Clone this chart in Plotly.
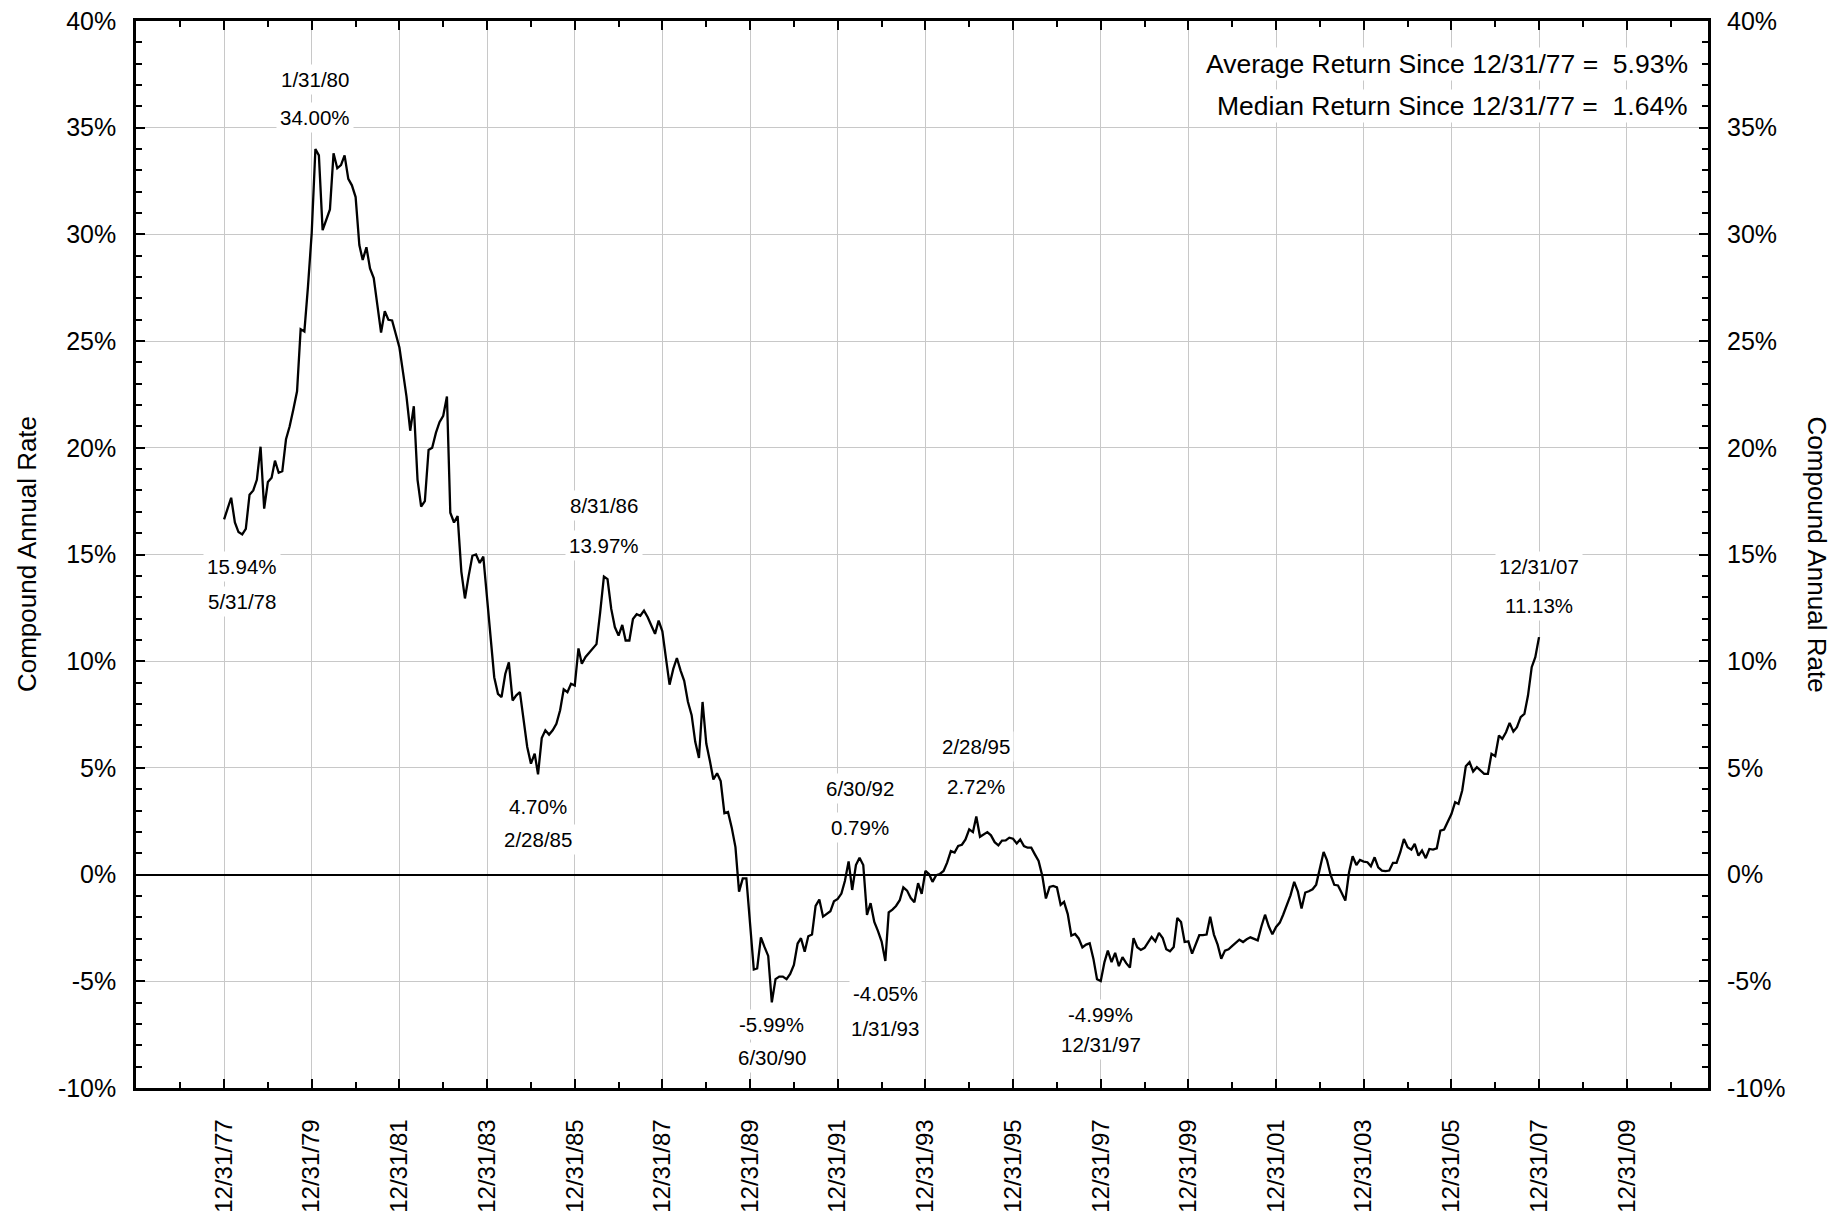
import pandas as pd
import plotly.graph_objects as go

# ---------------- data ----------------
START_DATE = "1977-12-31"
RATES = [
    16.65,
    17.15, 17.66, 16.5, 16.05, 15.94, 16.2, 17.8, 18.0, 18.5, 20.05, 17.15, 18.4,
    18.6, 19.4, 18.83, 18.9, 20.4, 21.0, 21.8, 22.65, 25.56, 25.45, 27.55, 30.05,
    34.00, 33.7, 30.2, 30.67, 31.17, 33.8, 33.1, 33.25, 33.7, 32.6, 32.3, 31.75,
    29.5, 28.8, 29.4, 28.4, 27.95, 26.7, 25.4, 26.4, 26.0, 25.97, 25.3, 24.7,
    23.5, 22.4, 20.8, 21.95, 18.5, 17.25, 17.5, 19.9, 20.0, 20.7, 21.2, 21.5,
    22.4, 16.96, 16.5, 16.8, 14.2, 12.94, 14.0, 14.94, 15.0, 14.6, 14.9, 12.9,
    11.1, 9.25, 8.47, 8.32, 9.4, 9.95, 8.16, 8.4, 8.55, 7.15, 5.98, 5.2,
    5.67, 4.70, 6.4, 6.76, 6.56, 6.76, 7.07, 7.7, 8.68, 8.55, 8.94, 8.86,
    10.6, 9.88, 10.2, 10.4, 10.58, 10.8, 12.3, 13.97, 13.85, 12.45, 11.6, 11.2,
    11.7, 10.97, 10.97, 11.98, 12.2, 12.13, 12.37, 12.06, 11.67, 11.28, 11.9, 11.4,
    10.1, 8.9, 9.64, 10.15, 9.56, 9.08, 8.1, 7.47, 6.22, 5.47, 8.09, 6.14,
    5.3, 4.46, 4.75, 4.38, 2.88, 2.93, 2.2, 1.29, -0.8, -0.18, -0.18, -2.3,
    -4.45, -4.4, -2.94, -3.39, -3.81, -5.99, -4.9, -4.78, -4.78, -4.9, -4.65, -4.23,
    -3.23, -2.98, -3.61, -2.89, -2.81, -1.47, -1.17, -1.97, -1.86, -1.72, -1.25, -1.14,
    -0.89, -0.3, 0.62, -0.72, 0.45, 0.79, 0.45, -1.89, -1.34, -2.22, -2.64, -3.14,
    -4.05, -1.77, -1.64, -1.47, -1.2, -0.6, -0.75, -1.1, -1.3, -0.4, -0.9, 0.17,
    0.02, -0.34, -0.03, 0.03, 0.17, 0.56, 1.1, 1.03, 1.34, 1.4, 1.65, 2.12,
    1.99, 2.72, 1.77, 1.88, 1.99, 1.84, 1.52, 1.37, 1.59, 1.6, 1.73, 1.68,
    1.46, 1.65, 1.34, 1.26, 1.26, 0.95, 0.64, -0.06, -1.12, -0.58, -0.53, -0.6,
    -1.42, -1.28, -1.85, -2.86, -2.78, -2.99, -3.41, -3.28, -3.22, -3.95, -4.9, -4.99,
    -4.1, -3.56, -4.1, -3.67, -4.29, -3.87, -4.15, -4.36, -2.98, -3.4, -3.53, -3.43,
    -3.13, -2.92, -3.13, -2.73, -2.97, -3.5, -3.59, -3.39, -2.03, -2.22, -3.16, -3.13,
    -3.7, -3.27, -2.84, -2.84, -2.81, -1.98, -2.81, -3.28, -3.94, -3.56, -3.5, -3.34,
    -3.19, -3.05, -3.16, -3.03, -2.94, -3.02, -3.08, -2.42, -1.88, -2.42, -2.8, -2.45,
    -2.25, -1.88, -1.41, -0.97, -0.34, -0.78, -1.59, -0.84, -0.78, -0.69, -0.47, 0.36,
    1.06, 0.68, -0.03, -0.48, -0.51, -0.85, -1.22, 0.11, 0.86, 0.45, 0.69, 0.61,
    0.58, 0.39, 0.81, 0.34, 0.19, 0.16, 0.19, 0.55, 0.55, 1.05, 1.67, 1.28,
    1.17, 1.44, 0.89, 1.13, 0.77, 1.2, 1.17, 1.23, 2.06, 2.11, 2.45, 2.84,
    3.39, 3.31, 3.94, 5.08, 5.27, 4.83, 5.03, 4.88, 4.72, 4.72, 5.66, 5.55,
    6.52, 6.36, 6.67, 7.11, 6.7, 6.91, 7.38, 7.53, 8.39, 9.72, 10.19, 11.13,
]
DATES = pd.date_range(START_DATE, periods=len(RATES), freq=pd.offsets.MonthEnd())

X_TICK_LABELS = ["12/31/77", "12/31/79", "12/31/81", "12/31/83", "12/31/85", "12/31/87",
                 "12/31/89", "12/31/91", "12/31/93", "12/31/95", "12/31/97", "12/31/99",
                 "12/31/01", "12/31/03", "12/31/05", "12/31/07", "12/31/09"]
Y_TICKS = [-10, -5, 0, 5, 10, 15, 20, 25, 30, 35, 40]
Y_TICK_LABELS = ["-10%", "-5%", "0%", "5%", "10%", "15%", "20%", "25%", "30%", "35%", "40%"]

HIGHLIGHT_DATES = ["5/31/78", "1/31/80", "2/28/85", "8/31/86", "6/30/90",
                   "6/30/92", "1/31/93", "2/28/95", "12/31/97", "12/31/07"]
AVERAGE_RETURN = 5.93
MEDIAN_RETURN = 1.64
SINCE_LABEL = "12/31/77"
Y_TITLE = "Compound Annual Rate"

# ---------------- figure ----------------
# the page body adds an 8px margin, so the figure is 8px smaller than the window
FONT = "Liberation Sans, Arial, sans-serif"
W, H = 1839, 1209
ML, MR, MT, MB = 127.5, 139, 13, 128.5
PW = W - ML - MR

x_tickvals = pd.to_datetime(X_TICK_LABELS, format="%m/%d/%y")
x_minor = pd.date_range("1975-12-31", "2011-12-31", freq=pd.offsets.YearEnd())
y_minor = list(range(-10, 41))

fig = go.Figure()
fig.add_trace(go.Scatter(x=DATES, y=RATES, mode="lines",
                         line=dict(color="black", width=2.3),
                         showlegend=False, hoverinfo="x+y"))
fig.add_trace(go.Scatter(x=DATES[:1], y=RATES[:1], mode="none", yaxis="y2",
                         showlegend=False, hoverinfo="skip"))

axis_common = dict(showline=True, linecolor="black", linewidth=2.5,
                   ticks="inside", ticklen=9, tickwidth=2, tickcolor="black",
                   showgrid=True, gridcolor="#c8c8c8", gridwidth=1)

fig.update_layout(
    width=W, height=H,
    margin=dict(l=ML, r=MR, t=MT, b=MB, autoexpand=False),
    paper_bgcolor="white", plot_bgcolor="white",
    font=dict(family=FONT, color="black"),
    xaxis=dict(type="date", range=["1975-12-28", "2011-11-08"],
               tickmode="array", tickvals=x_tickvals, ticktext=X_TICK_LABELS,
               tickangle=-90, mirror="ticks", zeroline=False,
               ticklabelstandoff=19, ticklabeloverflow="allow",
               tickfont=dict(family=FONT, size=24, color="black"),
               minor=dict(tickmode="array", tickvals=x_minor, ticks="inside",
                          ticklen=6, tickwidth=2, tickcolor="black", showgrid=False),
               **axis_common),
    yaxis=dict(range=[-10, 40], tickmode="array", tickvals=Y_TICKS, ticktext=Y_TICK_LABELS,
               mirror="ticks", zeroline=True, zerolinecolor="black", zerolinewidth=2,
               ticklabelstandoff=12, ticklabeloverflow="allow",
               tickfont=dict(family=FONT, size=25, color="black"),
               minor=dict(tickmode="array", tickvals=y_minor, ticks="inside",
                          ticklen=6, tickwidth=2, tickcolor="black", showgrid=False),
               **axis_common),
    yaxis2=dict(range=[-10, 40], overlaying="y", side="right", tickmode="array",
                tickvals=Y_TICKS, ticktext=Y_TICK_LABELS, showgrid=False,
                zeroline=False, showline=False, ticks="", ticklabelstandoff=18,
                ticklabeloverflow="allow",
                tickfont=dict(family=FONT, size=25, color="black")),
)

# highlighted point labels (value shift, date shift) in px
LABEL_SHIFTS = [(-32, -67), (32, 70), (-32, -65), (31, 71), (-22, -55),
                (30, 69.5), (-32.5, -67), (30, 70), (-33.5, -63.5), (32, 71)]
ann_font = dict(family=FONT, size=20.5, color="black")
for lbl, (vs, ds) in zip(HIGHLIGHT_DATES, LABEL_SHIFTS):
    d = pd.to_datetime(lbl, format="%m/%d/%y")
    idx = DATES.get_loc(d)
    v = RATES[idx]
    for text, shift in ((f"{v:.2f}%", vs), (lbl, ds)):
        fig.add_annotation(x=d, y=v, xref="x", yref="y", text=text, showarrow=False,
                           yshift=shift, font=ann_font, bgcolor="white", borderpad=3,
                           xanchor="center", yanchor="middle")

# summary text
sx = (1690 - 8 - ML) / PW
for yv, name, val in ((38, "Average", AVERAGE_RETURN), (36, "Median", MEDIAN_RETURN)):
    fig.add_annotation(x=sx, y=yv, xref="paper", yref="y", xanchor="right", yanchor="middle",
                       text=f"{name} Return Since {SINCE_LABEL} =  {val:.2f}%",
                       showarrow=False, font=dict(family=FONT, size=26.5, color="black"),
                       bgcolor="white")

# axis titles
for px_x, ang in ((26, -90), (1818, 90)):
    fig.add_annotation(x=(px_x - 8 - ML) / PW, y=0.5, xref="paper", yref="paper",
                       text=Y_TITLE, textangle=ang, showarrow=False,
                       xanchor="center", yanchor="middle",
                       font=dict(family=FONT, size=26, color="black"))

fig.write_html("out.html")
